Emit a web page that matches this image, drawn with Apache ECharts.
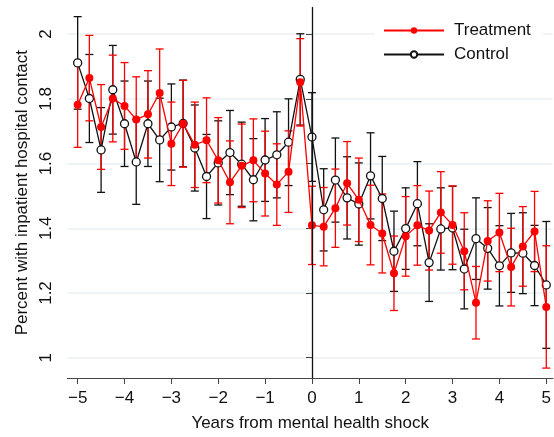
<!DOCTYPE html>
<html>
<head>
<meta charset="utf-8">
<script src="https://cdn.jsdelivr.net/npm/echarts@6/dist/echarts.min.js"></script>
<style>
  html, body { margin: 0; padding: 0; background: #fff; }
  #chart { width: 554px; height: 437px; }
</style>
</head>
<body>
<div id="chart"></div>
<script>
// quarters relative to the shock
const years = [-5, -4.75, -4.5, -4.25, -4, -3.75, -3.5, -3.25, -3, -2.75, -2.5, -2.25, -2, -1.75, -1.5, -1.25, -1, -0.75, -0.5, -0.25,
  0, 0.25, 0.5, 0.75, 1, 1.25, 1.5, 1.75, 2, 2.25, 2.5, 2.75, 3, 3.25, 3.5, 3.75, 4, 4.25, 4.5, 4.75, 5]

const treatment = [1.782, 1.864, 1.713, 1.801, 1.778, 1.736, 1.752, 1.818, 1.661, 1.723, 1.658, 1.672, 1.610, 1.542, 1.593, 1.610, 1.569, 1.535, 1.575, 1.851,
  1.409, 1.405, 1.462, 1.539, 1.488, 1.410, 1.384, 1.261, 1.375, 1.409, 1.393, 1.449, 1.410, 1.329, 1.170, 1.361, 1.387, 1.280, 1.344, 1.390, 1.157]
const treatmentHalf = [0.132, 0.132, 0.131, 0.134, 0.134, 0.132, 0.135, 0.136, 0.129, 0.134, 0.132, 0.131, 0.132, 0.128, 0.129, 0.128, 0.131, 0.126, 0.126, 0.135,
  0.121, 0.121, 0.121, 0.129, 0.129, 0.123, 0.122, 0.115, 0.123, 0.123, 0.122, 0.126, 0.121, 0.119, 0.112, 0.124, 0.121, 0.120, 0.123, 0.124, 0.189]

const control = [1.911, 1.801, 1.642, 1.828, 1.723, 1.605, 1.723, 1.673, 1.713, 1.724, 1.648, 1.560, 1.602, 1.634, 1.598, 1.550, 1.611, 1.627, 1.666, 1.860,
  1.682, 1.457, 1.549, 1.494, 1.475, 1.562, 1.492, 1.329, 1.399, 1.476, 1.294, 1.398, 1.401, 1.274, 1.368, 1.338, 1.284, 1.324, 1.323, 1.285, 1.225]
const controlHalf = [0.143, 0.136, 0.131, 0.137, 0.132, 0.131, 0.132, 0.129, 0.133, 0.134, 0.133, 0.130, 0.130, 0.130, 0.130, 0.127, 0.128, 0.133, 0.134, 0.141,
  0.137, 0.127, 0.130, 0.127, 0.127, 0.133, 0.130, 0.124, 0.126, 0.130, 0.120, 0.127, 0.129, 0.123, 0.126, 0.126, 0.124, 0.122, 0.125, 0.124, 0.196]

const xTicks = [-5, -4, -3, -2, -1, 0, 1, 2, 3, 4, 5]
const yTicks = [1, 1.2, 1.4, 1.6, 1.8, 2]

const RED = '#ff0000'
const BLACK = '#111111'
const FONT = 'Liberation Sans'

const myChart = echarts.init(document.getElementById('chart'))

// 置信区间 (rcap)
function errorBars(name, mid, half, color) {
  return {
    name: name + ' CI',
    type: 'custom',
    silent: true,
    encode: { x: 0, y: [1, 2] },
    renderItem: function(params, api) {
      const x = api.value(0)
      const lo = api.coord([x, api.value(1)])
      const hi = api.coord([x, api.value(2)])
      const w = 4
      const style = { stroke: color, lineWidth: 1.3, fill: null }
      return {
        type: 'group',
        children: [
          { type: 'line', shape: { x1: hi[0], y1: hi[1], x2: lo[0], y2: lo[1] }, style },
          { type: 'line', shape: { x1: hi[0] - w, y1: hi[1], x2: hi[0] + w, y2: hi[1] }, style },
          { type: 'line', shape: { x1: lo[0] - w, y1: lo[1], x2: lo[0] + w, y2: lo[1] }, style }
        ]
      }
    },
    data: years.map((y, i) => [y, mid[i] - half[i], mid[i] + half[i]])
  }
}

const minus = v => String(v).replace('-', '\u2212')

const option = {
  animation: false,
  backgroundColor: '#fff',
  textStyle: { fontFamily: FONT },
  grid: { left: 67.3, right: 0, top: 7.3, bottom: 56.3 },
  legend: {
    data: ['Treatment', 'Control'],
    orient: 'vertical',
    left: 375,
    top: 14,
    backgroundColor: '#fff',
    padding: [8, 12, 8, 8],
    itemWidth: 60,
    itemHeight: 8,
    itemGap: 7,
    textStyle: { fontFamily: FONT, fontSize: 17, color: BLACK, padding: [0, 0, 0, 5] }
  },
  xAxis: {
    type: 'value',
    min: -5.221,
    max: 5.143,
    name: 'Years from mental health shock',
    nameLocation: 'middle',
    nameGap: 37,
    nameTextStyle: { fontFamily: FONT, fontSize: 17, color: BLACK },
    axisLine: { onZero: false, lineStyle: { color: '#444', width: 1 } },
    axisTick: { show: true, length: 6, customValues: xTicks, lineStyle: { color: '#444' } },
    axisLabel: { customValues: xTicks, fontSize: 17, color: BLACK, margin: 12, formatter: minus },
    splitLine: { show: false }
  },
  yAxis: {
    type: 'value',
    min: 0.9374,
    max: 2.0828,
    name: 'Percent with inpatient hospital contact',
    nameLocation: 'middle',
    nameRotate: 90,
    nameGap: 32,
    nameTextStyle: { fontFamily: FONT, fontSize: 17, color: BLACK },
    axisLine: { show: true, lineStyle: { color: '#444', width: 1 } },
    axisTick: { show: true, length: 6, customValues: yTicks, lineStyle: { color: '#444' } },
    axisLabel: { customValues: yTicks, fontSize: 17, color: BLACK, rotate: 90, margin: 12 },
    splitLine: { show: true, lineStyle: { color: '#eaf2f3', width: 1.5 } }
  },
  series: [
    errorBars('Control', control, controlHalf, BLACK),
    errorBars('Treatment', treatment, treatmentHalf, RED),
    {
      name: 'Control',
      type: 'line',
      data: years.map((y, i) => [y, control[i]]),
      symbol: 'circle',
      symbolSize: 8,
      lineStyle: { color: BLACK, width: 1.3 },
      itemStyle: { color: '#fff', borderColor: BLACK, borderWidth: 1.3 },
      markLine: {
        silent: true,
        symbol: 'none',
        label: { show: false },
        lineStyle: { color: BLACK, width: 1.3, type: 'solid' },
        data: [{ xAxis: 0 }]
      },
      z: 3
    },
    {
      name: 'Treatment',
      type: 'line',
      data: years.map((y, i) => [y, treatment[i]]),
      symbol: 'circle',
      symbolSize: 8,
      lineStyle: { color: RED, width: 1.3 },
      itemStyle: { color: RED, borderColor: RED, borderWidth: 0 },
      z: 4
    }
  ]
}

myChart.setOption(option)
</script>
</body>
</html>
